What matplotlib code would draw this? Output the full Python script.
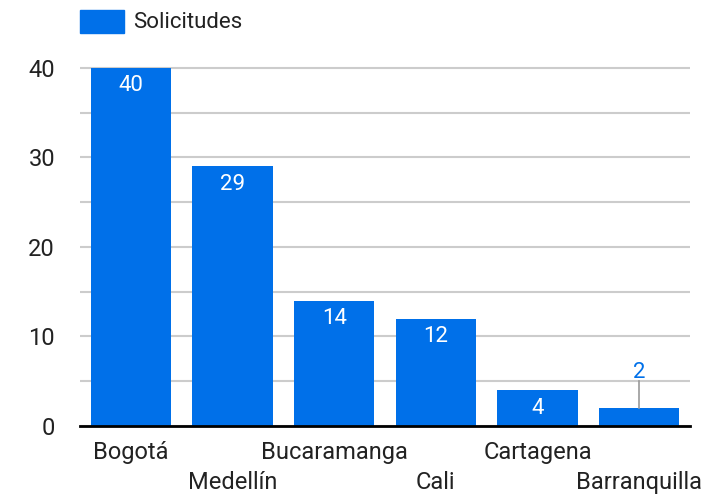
import matplotlib.pyplot as plt
import numpy as np

# === 数据 ===
ciudades = ['Bogotá', 'Medellín', 'Bucaramanga', 'Cali', 'Cartagena', 'Barranquilla']
solicitudes = [40, 29, 14, 12, 4, 2]
serie = 'Solicitudes'

azul = '#0070e9'
plt.rcParams['font.family'] = ['Roboto', 'DejaVu Sans']

fig = plt.figure(figsize=(7.21, 4.98), dpi=100)
ax = fig.add_axes([80 / 721, 1 - 426 / 498, 610 / 721, (426 - 59) / 498])

x = np.arange(len(ciudades))
ax.bar(x, solicitudes, width=0.79, color=azul, zorder=3, label=serie)

ax.set_xlim(-0.5, len(ciudades) - 0.5)
ax.set_ylim(0, 41.0)
ax.set_yticks([0, 10, 20, 30, 40])
ax.set_yticks([5, 15, 25, 35], minor=True)
ax.grid(axis='y', which='both', color='#cccccc', linewidth=1.5, zorder=0)
ax.tick_params(axis='y', which='both', length=0, pad=18, labelsize=17, labelcolor='#222222')
ax.tick_params(axis='x', length=0)
for s in ['top', 'right', 'left']:
    ax.spines[s].set_visible(False)
ax.spines['bottom'].set_linewidth(2)
ax.spines['bottom'].set_zorder(4)

# 错位的x轴标签
ax.set_xticks(x)
ax.set_xticklabels([])
for i, nombre in enumerate(ciudades):
    dy = -26 if i % 2 == 0 else -56
    ax.annotate(nombre, (x[i], 0), xytext=(0, dy), textcoords='offset pixels',
                ha='center', va='center', fontsize=17, color='#222222')

# 数值标签
for i, v in enumerate(solicitudes):
    if v >= 4:
        ax.annotate(str(v), (x[i], v), xytext=(0, -18), textcoords='offset pixels',
                    ha='center', va='center', fontsize=16, color='white', zorder=5)
    else:
        ax.annotate(str(v), (x[i], v), xytext=(0, 36), textcoords='offset pixels',
                    ha='center', va='center', fontsize=16, color=azul, zorder=5)
        ax.plot([x[i], x[i]], [v, 5.0], color='#999999', linewidth=1.2, zorder=4)

# 图例
fig.patches.append(plt.Rectangle((80 / 721, 1 - 33 / 498), 44 / 721, 23 / 498,
                                 transform=fig.transFigure, color=azul))
fig.text(133 / 721, 1 - 23 / 498, serie, fontsize=16, va='center', ha='left', color='#222222')

fig.savefig('out.png', dpi=100)
